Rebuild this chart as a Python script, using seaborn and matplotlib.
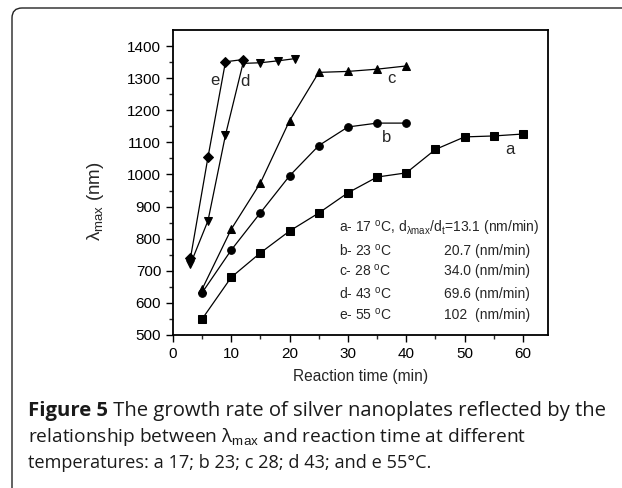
import matplotlib
matplotlib.use("Agg")
import matplotlib.pyplot as plt
from matplotlib.path import Path
from matplotlib.patches import PathPatch
import seaborn as sns

# Datos (tiempo en min, lambda_max en nm)
t_a = [5, 10, 15, 20, 25, 30, 35, 40, 45, 50, 55, 60]
lam_a = [550, 680, 756, 824, 880, 943, 992, 1005, 1078, 1117, 1120, 1126]
t_b = [5, 10, 15, 20, 25, 30, 35, 40]
lam_b = [632, 765, 881, 996, 1090, 1148, 1160, 1160]
t_c = [5, 10, 15, 20, 25, 30, 35, 40]
lam_c = [643, 830, 974, 1168, 1318, 1321, 1328, 1338]
t_d = [3, 6, 9, 12, 15, 18, 21]
lam_d = [721, 856, 1123, 1346, 1348, 1354, 1361]
t_e = [3, 6, 9, 12]
lam_e = [740, 1054, 1351, 1358]

series = ["a", "b", "c", "d", "e"]
temps = ["17", "23", "28", "43", "55"]
rates = ["13.1", "20.7", "34.0", "69.6", "102 "]

x_ticks = [0, 10, 20, 30, 40, 50, 60]
y_ticks = [500, 600, 700, 800, 900, 1000, 1100, 1200, 1300, 1400]

sns.set_theme(style="ticks")
plt.rcParams["font.family"] = ["Liberation Sans", "DejaVu Sans"]
plt.rcParams["mathtext.fontset"] = "custom"
plt.rcParams["mathtext.rm"] = "Liberation Sans"
plt.rcParams["mathtext.it"] = "Liberation Sans:italic"

fig = plt.figure(figsize=(6.22, 4.88), dpi=100)
ax = fig.add_axes([173 / 622, 1 - 335 / 488, 375 / 622, 305 / 488])

# Curvas
datos = [(t_a, lam_a, "s"), (t_b, lam_b, "o"), (t_c, lam_c, "^"),
         (t_d, lam_d, "v"), (t_e, lam_e, "D")]
for t, lam, m in datos:
  ms = 5.5 if m != "D" else 5
  sns.lineplot(x=t, y=lam, marker=m, color="black", linewidth=0.9,
               markersize=ms, markeredgecolor="black", ax=ax)

# Etiquetas de cada curva
etiq_pos = [(57.8, 1079), (36.7, 1114), (37.4, 1300), (12.3, 1290), (7.2, 1294)]
for s, (x, y) in zip(series, etiq_pos):
  ax.text(x, y, s, fontsize=12, ha="center", va="center")

# Bloque de texto con temperaturas y tasas
y_txt = [833, 762, 700, 628, 562]
ax.text(28.5, y_txt[0],
        r"a- 17 $^{\rm o}$C, d$_{\rm λmax}$/d$_{\rm t}$=" + rates[0] + " (nm/min)",
        fontsize=10, ha="left", va="center")
for s, tc, r, y in zip(series[1:], temps[1:], rates[1:], y_txt[1:]):
  ax.text(28.5, y, s + "- " + tc + r" $^{\rm o}$C", fontsize=10, ha="left", va="center")
  ax.text(61.2, y, r + " (nm/min)", fontsize=10, ha="right", va="center")

ax.set_xlim(0, 64.3)
ax.set_ylim(500, 1450)
ax.set_xticks(x_ticks)
ax.set_yticks(y_ticks)
ax.set_xticks(range(5, 65, 10), minor=True)
ax.set_yticks(range(550, 1450, 100), minor=True)
ax.tick_params(which="major", direction="out", length=5, width=1, labelsize=11,
               colors="black", top=False, right=False)
ax.tick_params(which="minor", direction="out", length=3, width=1, top=False, right=False)
for sp in ax.spines.values():
  sp.set_visible(True)
  sp.set_linewidth(1.3)
  sp.set_color("black")
ax.set_xlabel("Reaction time (min)", fontsize=11.2, labelpad=6)
ax.set_ylabel(r"λ$_{\rm max}$ (nm)", fontsize=13.5)
ax.yaxis.set_label_coords(-0.18, 0.44)

# Pie de figura
cap_font = ["Open Sans", "DejaVu Sans"]
cap_col = "#1a1a1a"
t1 = fig.text(28 / 622, 1 - 411 / 488, "Figure 5", fontsize=14.6, fontweight="bold",
              family=cap_font, va="center", ha="left", color=cap_col)
ax.annotate(" The growth rate of silver nanoplates reflected by the", xy=(1, 0),
            xycoords=t1, va="bottom", ha="left", fontsize=14.6, family=cap_font,
            annotation_clip=False, color=cap_col)
fig.text(28 / 622, 1 - 437 / 488,
         "relationship between λ$_{\\rm max}$ and reaction time at different",
         fontsize=13.8, family=cap_font, va="center", ha="left", color=cap_col)
fig.text(28 / 622, 1 - 463 / 488,
         "temperatures: a 17; b 23; c 28; d 43; and e 55°C.",
         fontsize=13.1, family=cap_font, va="center", ha="left", color=cap_col)

# Borde exterior (arriba e izquierda con esquina redondeada)
r = 10
vx = [12 / 622, 12 / 622, 12 / 622, (12 + r) / 622, 1.0]
vy = [0.0, 1 - (8 + r) / 488, 1 - 8 / 488, 1 - 8 / 488, 1 - 8 / 488]
path = Path(list(zip(vx, vy)),
            [Path.MOVETO, Path.LINETO, Path.CURVE3, Path.CURVE3, Path.LINETO])
fig.add_artist(PathPatch(path, transform=fig.transFigure, fill=False,
                         edgecolor="#222222", linewidth=1.0))

fig.savefig("out.png", dpi=100)
